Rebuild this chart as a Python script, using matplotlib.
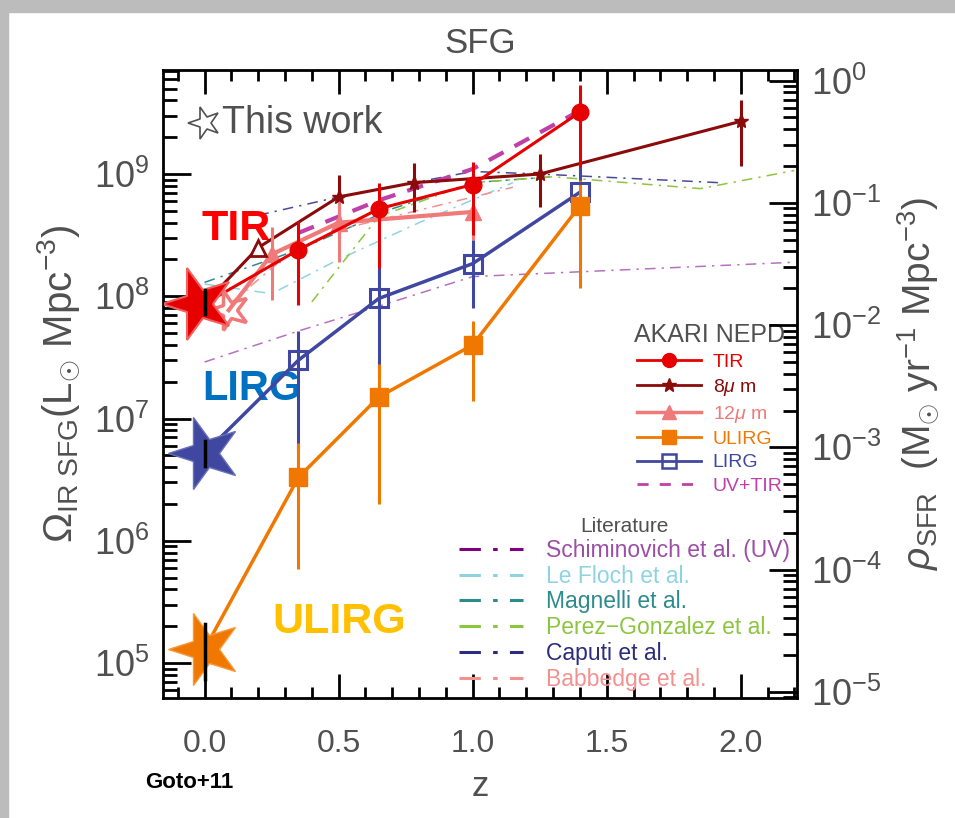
import numpy as np
import matplotlib
matplotlib.use('Agg')
from matplotlib import pyplot as plt
from matplotlib.markers import MarkerStyle
from matplotlib.transforms import Affine2D
from matplotlib.lines import Line2D
from matplotlib.patches import Rectangle

plt.rcParams['font.family'] = ['Liberation Sans', 'DejaVu Sans']
plt.rcParams['mathtext.fontset'] = 'custom'
plt.rcParams['mathtext.rm'] = 'Liberation Sans'
plt.rcParams['mathtext.it'] = 'Liberation Sans:italic'
plt.rcParams['mathtext.bf'] = 'Liberation Sans:bold'

# AKARI NEPD results
z_tir = [0.35, 0.65, 1.0, 1.4]
tir = [2.4e8, 5.2e8, 8.2e8, 3.2e9]
tir_lo = [8.5e7, 1.4e8, 3.2e8, 1.0e9]
tir_hi = [4.1e8, 8.5e8, 1.26e9, 5.4e9]

z_8um = [0.5, 0.78, 1.25, 2.0]
um8 = [6.5e8, 8.5e8, 1.0e9, 2.7e9]
um8_lo = [3.0e8, 4.9e8, 5.4e8, 1.17e9]
um8_hi = [9.8e8, 1.23e9, 1.45e9, 4.0e9]
z_8um_tri = 0.2
um8_tri = 2.5e8

z_12um = [0.25, 0.5, 1.0]
um12 = [2.2e8, 4.0e8, 4.9e8]
um12_lo = [9.3e7, 1.9e8, 2.9e8]
um12_hi = [3.7e8, 6.5e8, 5.6e8]

z_ulirg = [0.35, 0.65, 1.0, 1.4]
ulirg = [3.3e6, 1.5e7, 4.0e7, 5.5e8]
ulirg_lo = [5.9e5, 2.0e6, 1.4e7, 1.17e8]
ulirg_hi = [6.3e6, 2.8e7, 6.3e7, 8.9e8]

z_lirg = [0.35, 0.65, 1.0, 1.4]
lirg = [3.0e7, 9.6e7, 1.85e8, 7.1e8]
lirg_lo = [5.5e6, 2.2e7, 8.0e7, 2.75e8]
lirg_hi = [5.2e7, 1.7e8, 2.9e8, 1.15e9]

z_uvtir = [0.35, 0.65, 1.0, 1.4]
uvtir = [3.3e8, 6.1e8, 1.1e9, 3.3e9]

# local values (stars, this work)
z_local = 0.0
tir_local, tir_local_lo, tir_local_hi = 8.7e7, 7.1e7, 1.12e8
lirg_local, lirg_local_lo, lirg_local_hi = 5.2e6, 4.1e6, 6.6e6
ulirg_local, ulirg_local_lo, ulirg_local_hi = 1.3e5, 7.4e4, 2.1e5
z_12um_local = 0.09
um12_local = 7.7e7

# literature
z_schim = [0.0, 0.35, 0.65, 1.0, 1.6, 2.2]
schim = [2.9e7, 5.2e7, 8.3e7, 1.45e8, 1.66e8, 1.9e8]
z_lefloch = [0.0, 0.25, 0.5, 0.8, 1.15]
lefloch = [1.26e8, 1.05e8, 2.0e8, 4.0e8, 8.5e8]
z_magnelli = [0.0, 0.35, 0.7, 1.0, 1.3]
magnelli = [1.3e8, 2.4e8, 5.2e8, 8.5e8, 9.5e8]
z_perez = [0.4, 0.65, 1.0, 1.3, 1.85, 2.2]
perez = [9.0e7, 4.5e8, 8.5e8, 9.5e8, 7.6e8, 1.07e9]
z_caputi = [0.2, 0.5, 1.0, 1.25, 1.92]
caputi = [4.6e8, 6.5e8, 1.05e9, 1.0e9, 8.5e8]
z_babbedge = [0.1, 0.3, 0.5, 1.15]
babbedge = [8.9e7, 2.1e8, 3.5e8, 7.8e8]

sfr_factor = 1.72e-10

c_tir = '#e60000'
c_8 = '#8b0a0a'
c_12 = '#f07a7a'
c_ul = '#f07800'
c_li = '#3f47a0'
c_uv = '#c040a8'
c_grey = '#505050'

fig = plt.figure(figsize=(9.55, 8.18), dpi=100)
fig.patches.append(Rectangle((0, 1 - 12 / 818), 1, 12 / 818, transform=fig.transFigure,
                             color='#bcbcbc', zorder=0))
fig.patches.append(Rectangle((0, 0), 8 / 955, 1, transform=fig.transFigure,
                             color='#bcbcbc', zorder=0))
ax = fig.add_axes([0.1707, 0.1467, 0.6639, 0.7677])


def err(v, lo, hi):
    v = np.array(v)
    return [v - np.array(lo), np.array(hi) - v]


# literature lines
lit = [
    (z_schim, schim, '#b870c0', '#800080', '#9b4fa5', 'Schiminovich et al. (UV)'),
    (z_lefloch, lefloch, '#8fd3e3', '#8fd3e3', '#8fd3e3', 'Le Floch et al.'),
    (z_magnelli, magnelli, '#2e8b8b', '#2e8b8b', '#2e8b8b', 'Magnelli et al.'),
    (z_perez, perez, '#8cc63f', '#8cc63f', '#8cc63f', 'Perez\u2212Gonzalez et al.'),
    (z_caputi, caputi, '#4a4a98', '#2b2b7f', '#2b2b7f', 'Caputi et al.'),
    (z_babbedge, babbedge, '#f49090', '#f49090', '#f49090', 'Babbedge et al.'),
]
dashdot = (0, (7, 4, 1.5, 4))
for zz, vv, c, _, _, _ in lit:
    ax.plot(zz, vv, color=c, lw=1.1, ls=dashdot, zorder=2)

# UV+TIR
ax.plot(z_uvtir, uvtir, color=c_uv, lw=3, ls=(0, (4, 3)), zorder=3)

# 8um
ax.plot([z_local, z_8um_tri] + z_8um, [tir_local, um8_tri] + um8, color=c_8, lw=2.2, zorder=4)
ax.errorbar(z_8um, um8, yerr=err(um8, um8_lo, um8_hi), fmt='*', color=c_8, ms=11,
            elinewidth=2.2, capsize=0, zorder=4)
ax.plot([z_8um_tri], [um8_tri], '^', mfc='white', mec=c_8, mew=2, ms=11, zorder=5)

# 12um
ax.plot([z_12um_local] + z_12um, [um12_local] + um12, color=c_12, lw=3, zorder=4)
ax.errorbar(z_12um, um12, yerr=err(um12, um12_lo, um12_hi), fmt='^', color=c_12, ms=12,
            elinewidth=2.2, capsize=0, zorder=4)

# TIR
ax.plot([z_local] + z_tir, [tir_local] + tir, color=c_tir, lw=2.2, zorder=5)
ax.errorbar(z_tir, tir, yerr=err(tir, tir_lo, tir_hi), fmt='o', color=c_tir, ms=12,
            elinewidth=2.2, capsize=0, zorder=5)

# LIRG
ax.plot([z_local] + z_lirg, [lirg_local] + lirg, color=c_li, lw=2.5, zorder=5)
ax.errorbar(z_lirg, lirg, yerr=err(lirg, lirg_lo, lirg_hi), fmt='s', color=c_li, mfc='none',
            mec=c_li, mew=2.2, ms=13, elinewidth=2.2, capsize=0, zorder=5)

# ULIRG
ax.plot([z_local] + z_ulirg, [ulirg_local] + ulirg, color=c_ul, lw=2.5, zorder=5)
ax.errorbar(z_ulirg, ulirg, yerr=err(ulirg, ulirg_lo, ulirg_hi), fmt='s', color=c_ul,
            ms=13, elinewidth=2.2, capsize=0, zorder=5)

# local stars
star = MarkerStyle('*', transform=Affine2D().rotate_deg(18))
ax.plot([z_12um_local], [um12_local], marker=star, ms=30, mfc='none', mec=c_12, mew=2.5, zorder=6)
ax.plot([z_local - 0.02], [tir_local], marker=star, ms=54, color=c_tir, mec='#f06060', mew=1.5, zorder=6)
ax.plot([z_local], [lirg_local], marker=star, ms=54, color=c_li, mec='#6a70b8', mew=1, zorder=6)
ax.plot([z_local], [ulirg_local], marker=star, ms=54, color=c_ul, mec='#f59a3c', mew=1, zorder=6)
for v, lo, hi in [(tir_local, tir_local_lo, tir_local_hi),
                  (lirg_local, lirg_local_lo, lirg_local_hi),
                  (ulirg_local, ulirg_local_lo, ulirg_local_hi)]:
    ax.plot([z_local, z_local], [lo, hi], color='black', lw=2.5, zorder=7)

ax.set_yscale('log')
ax.set_xlim(-0.155, 2.21)
ax.set_ylim(10 ** 4.714, 10 ** 9.851)

ax.set_xticks([0.0, 0.5, 1.0, 1.5, 2.0])
ax.set_xticklabels(['0.0', '0.5', '1.0', '1.5', '2.0'])
ax.set_xticks(np.arange(-0.1, 2.21, 0.1), minor=True)
ax.tick_params(axis='x', which='both', direction='in', top=True, bottom=True,
               labelsize=23, labelcolor=c_grey, pad=22)
ax.tick_params(axis='x', which='major', length=17, width=2)
ax.tick_params(axis='x', which='minor', length=8, width=2)
ax.tick_params(axis='y', which='both', direction='in', left=True, right=False,
               labelsize=26, labelcolor=c_grey, pad=10)
ax.tick_params(axis='y', which='major', length=20, width=2)
ax.tick_params(axis='y', which='minor', length=10, width=2)
for s in ax.spines.values():
    s.set_linewidth(2)

ax2 = ax.twinx()
ax2.set_yscale('log')
ax2.set_ylim(10 ** 4.714 * sfr_factor, 10 ** 9.851 * sfr_factor)
ax2.tick_params(axis='y', which='both', direction='in', labelsize=26, labelcolor=c_grey, pad=10)
ax2.tick_params(axis='y', which='major', length=20, width=2)
ax2.tick_params(axis='y', which='minor', length=10, width=2)
ax2.set_ylabel(r'$\rho_{\rm SFR}\ \ (\rm M_{\odot}\ yr^{-1}\ Mpc^{-3})$', fontsize=28,
               color=c_grey, labelpad=10)

ax.set_ylabel(r'$\Omega_{\rm IR\ SFG}(\rm L_{\odot}\ Mpc^{-3})$', fontsize=29, color=c_grey, labelpad=8)
ax.set_xlabel('z', fontsize=25, color=c_grey, labelpad=8)
ax.set_title('SFG', fontsize=25, color=c_grey, pad=12)

# This work marker
ax.plot([0.0], [10 ** 9.42], marker=star, ms=24, mfc='none', mec=c_grey, mew=1.2, zorder=6)
ax.text(0.065, 10 ** 9.42, 'This work', fontsize=27, color=c_grey, va='center', ha='left')

# big labels
ax.text(-0.01, 10 ** 8.46, 'TIR', fontsize=31, color='#ff0000', fontweight='bold')
ax.text(-0.01, 10 ** 7.15, 'LIRG', fontsize=30, color='#0070c0', fontweight='bold')
ax.text(0.254, 10 ** 5.245, 'ULIRG', fontsize=31, color='#ffc000', fontweight='bold')
fig.text(145 / 955, 1 - 782 / 818, 'Goto+11', fontsize=16, fontweight='bold', color='black',
         va='center')

# AKARI legend
h1 = [
    Line2D([], [], color=c_tir, lw=2, marker='o', ms=10),
    Line2D([], [], color=c_8, lw=2, marker='*', ms=10),
    Line2D([], [], color=c_12, lw=2.5, marker='^', ms=10),
    Line2D([], [], color=c_ul, lw=2, marker='s', ms=10),
    Line2D([], [], color=c_li, lw=2, marker='s', ms=10, mfc='none', mew=1.8),
    Line2D([], [], color=c_uv, lw=2, ls=(0, (4, 4))),
]
l1 = ax.legend(h1, ['TIR', r'8$\mu$ m', r'12$\mu$ m', 'ULIRG', 'LIRG', 'UV+TIR'],
               loc='upper right', bbox_to_anchor=(1.0, 0.615), frameon=False, fontsize=14,
               labelcolor='linecolor', handlelength=3.3, labelspacing=0.3, handletextpad=0.6,
               title='AKARI NEPD', title_fontsize=18, borderaxespad=0.2)
l1.get_title().set_color(c_grey)
ax.add_artist(l1)

h2 = [Line2D([], [], color=c[3], lw=2.2, ls=dashdot) for c in lit]
l2 = ax.legend(h2, [c[5] for c in lit], loc='upper right', bbox_to_anchor=(1.01, 0.31),
               frameon=False, fontsize=16.5, handlelength=2.8, labelspacing=0.12,
               handletextpad=1.0, title='Literature', title_fontsize=15, borderaxespad=0.2)
l2.get_title().set_color(c_grey)
for t, c in zip(l2.get_texts(), lit):
    t.set_color(c[4])

fig.savefig('out.png', dpi=100)
